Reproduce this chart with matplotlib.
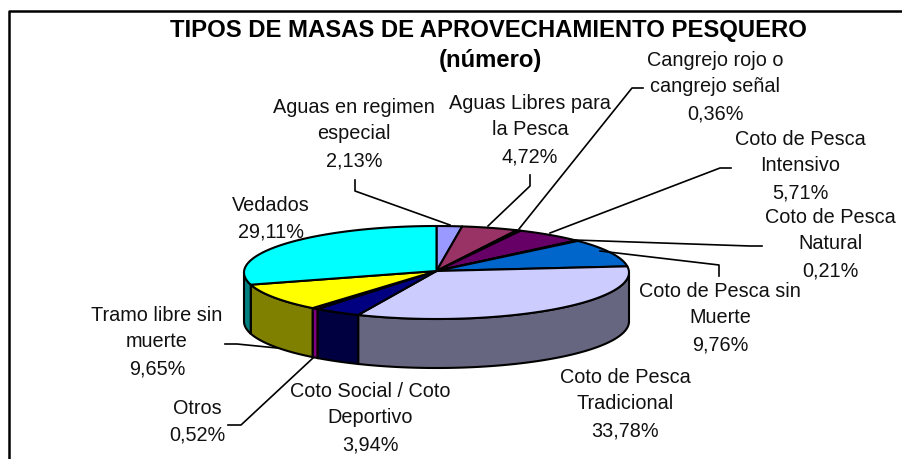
import numpy as np
import matplotlib
matplotlib.use('Agg')
import matplotlib.pyplot as plt

plt.rcParams['font.family'] = ['Liberation Sans', 'DejaVu Sans']

#------------- Data -----------------#
categories = ['Aguas en regimen\nespecial', 'Aguas Libres para\nla Pesca', 'Cangrejo rojo o\ncangrejo señal',
              'Coto de Pesca\nIntensivo', 'Coto de Pesca\nNatural', 'Coto de Pesca sin\nMuerte',
              'Coto de Pesca\nTradicional', 'Coto Social / Coto\nDeportivo', 'Otros',
              'Tramo libre sin\nmuerte', 'Vedados']
values = [2.13, 4.72, 0.36, 5.71, 0.21, 9.76, 33.78, 3.94, 0.52, 9.65, 29.11]
top_colors = ['#9999FF', '#993366', '#FFFFCC', '#660066', '#FF8080', '#0066CC',
              '#CCCCFF', '#000080', '#FF00FF', '#FFFF00', '#00FFFF']
side_colors = ['#4D4D80', '#4D1A33', '#808066', '#330033', '#804040', '#003366',
               '#666680', '#000040', '#800080', '#808000', '#008080']

# label centre (px) and leader line (px) for each slice
label_pos = [(354, 134), (530, 130), (715, 87), (800, 166), (830, 244), (720, 318),
             (625, 404), (370, 418), (197, 422), (157, 342), (271, 219)]
leaders = [[(355, 181), (355, 192), (450, 226)],
           [(530, 176), (530, 187), (488, 227)],
           [(643, 89), (632, 89), (519, 230)],
           [(731, 169), (720, 169), (550, 234)],
           [(762, 247), (750, 247), (574, 241)],
           [(719, 277), (719, 266), (600, 252)],
           None,
           None,
           [(228, 426), (241, 426), (313, 359)],
           [(225, 345), (237, 345), (277, 349)],
           None]

cx, cy, rx, ry, depth = 436.5, 273.5, 192.5, 46.5, 49
apex = (436.5, 272)

fig = plt.figure(figsize=(9.02, 4.6), dpi=100)
ax = fig.add_axes([0, 0, 1, 1])
ax.set_xlim(0, 902)
ax.set_ylim(460, 0)
ax.axis('off')

# frame: only left and top show in the picture
ax.plot([9, 9, 902], [460, 12, 12], color='black', lw=1.8)

ends = 90 - np.cumsum(values) * 3.6
starts = np.r_[90, ends[:-1]]
ends[-1] = -270

# side walls first
for a, b, c in zip(starts, ends, side_colors):
    lo, hi = max(b, -180), min(a, 0)
    if lo >= hi:
        continue
    t = np.radians(np.linspace(hi, lo, 60))
    x = cx + rx * np.cos(t)
    y = cy - ry * np.sin(t)
    ax.fill(np.r_[x, x[::-1]], np.r_[y, y[::-1] + depth], facecolor=c, edgecolor='black', lw=1.5, zorder=2)

# top faces
for a, b, c in zip(starts, ends, top_colors):
    t = np.radians(np.linspace(a, b, 120))
    x = cx + rx * np.cos(t)
    y = cy - ry * np.sin(t)
    ax.fill(np.r_[apex[0], x], np.r_[apex[1], y], facecolor=c, edgecolor='black', lw=1.5, zorder=3, joinstyle='round')

for line in leaders:
    if line is not None:
        ax.plot(*zip(*line), color='black', lw=1.2, zorder=4)

for name, val, pos in zip(categories, values, label_pos):
    txt = name + '\n' + f'{val:.2f}'.replace('.', ',') + '%'
    ax.text(pos[0], pos[1], txt, ha='center', va='center', fontsize=14.3, linespacing=1.51, zorder=5, color='#111111')

ax.text(488, 30, 'TIPOS DE MASAS DE APROVECHAMIENTO PESQUERO', ha='center', va='center',
        fontsize=17.2, fontweight='bold')
ax.text(490, 61, '(número)', ha='center', va='center', fontsize=17.2, fontweight='bold')

fig.savefig('out.png', dpi=100)
